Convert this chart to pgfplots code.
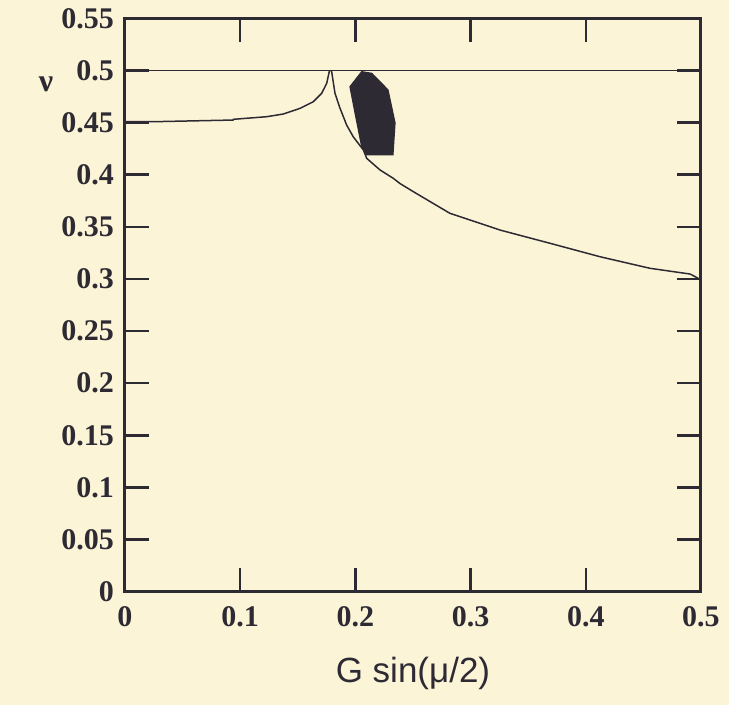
\documentclass[border=0pt]{standalone}
\usepackage{pgfplots}
\pgfplotsset{compat=1.18}
\usetikzlibrary{backgrounds}
\usepackage{fontspec}
\setmainfont{Liberation Serif}
\newfontfamily\labelfont{Liberation Sans}
\definecolor{bgc}{RGB}{252,244,214}
\definecolor{ink}{RGB}{45,42,52}

\begin{document}
\begin{tikzpicture}
\begin{axis}[
  scale only axis, width=288pt, height=286.7pt,
  xmin=0, xmax=0.5, ymin=0, ymax=0.55,
  xtick={0,0.1,0.2,0.3,0.4,0.5},
  xticklabels={0,0.1,0.2,0.3,0.4,0.5},
  ytick={0,0.05,0.1,0.15,0.2,0.25,0.3,0.35,0.4,0.45,0.5,0.55},
  yticklabels={0,0.05,0.1,0.15,0.2,0.25,0.3,0.35,0.4,0.45,0.5,0.55},
  tick align=inside, major tick length=12pt,
  axis line style={ink, line width=1.5pt},
  tick style={ink, line width=1.2pt},
  ticklabel style={font=\fontsize{15}{17}\selectfont\bfseries, text=ink},
  xticklabel style={yshift=-4pt},
  yticklabel style={xshift=-2pt},
  xlabel={\labelfont G sin(μ/2)},
  xlabel style={font=\fontsize{17.5}{20}\selectfont, text=ink, at={(axis description cs:0.5,-0.143)}, anchor=center},
  ylabel={\bfseries ν},
  ylabel style={font=\fontsize{16}{18}\selectfont, text=ink, rotate=-90, at={(axis description cs:-0.137,0.885)}, anchor=center},
]
% horizontal line at 0.5
\addplot[ink, line width=0.75pt, sharp plot] coordinates {(0,0.5) (0.5,0.5)};
% left branch
\addplot[ink, line width=0.75pt, sharp plot] coordinates {
(0,0.4508) (0.0243,0.4508) (0.0938,0.4524) (0.094,0.4531) (0.123,0.4556)
(0.1375,0.4582) (0.1519,0.4636) (0.1635,0.4700) (0.1707,0.4780)
(0.1751,0.4876) (0.1773,0.4988) (0.178,0.5)};
% right branch
\addplot[ink, line width=0.75pt, sharp plot] coordinates {
(0.1790,0.5) (0.1794,0.4988) (0.1823,0.478) (0.1866,0.4639) (0.1924,0.4476)
(0.1981,0.4364) (0.2069,0.4237) (0.2098,0.4157) (0.2214,0.4045)
(0.2329,0.3965) (0.2387,0.3915) (0.2503,0.3837) (0.2821,0.3629)
(0.3255,0.3469) (0.3689,0.3342) (0.4123,0.3213) (0.4557,0.3102)
(0.4905,0.3047) (0.4977,0.3006)};
% dark blob
\addplot[fill=ink, draw=ink, line width=0.6pt] coordinates {
(0.2055,0.4988) (0.2142,0.4972) (0.2283,0.4813) (0.2344,0.4497)
(0.2326,0.4190) (0.2098,0.4190) (0.2055,0.4268) (0.1997,0.4591)
(0.1953,0.4844)} -- cycle;
\end{axis}
\begin{pgfonlayer}{background}
\fill[bgc] ([shift={(-62.5pt,-56.65pt)}]current axis.south west) rectangle ++(364.5pt,352.5pt);
\end{pgfonlayer}
\end{tikzpicture}
\end{document}
